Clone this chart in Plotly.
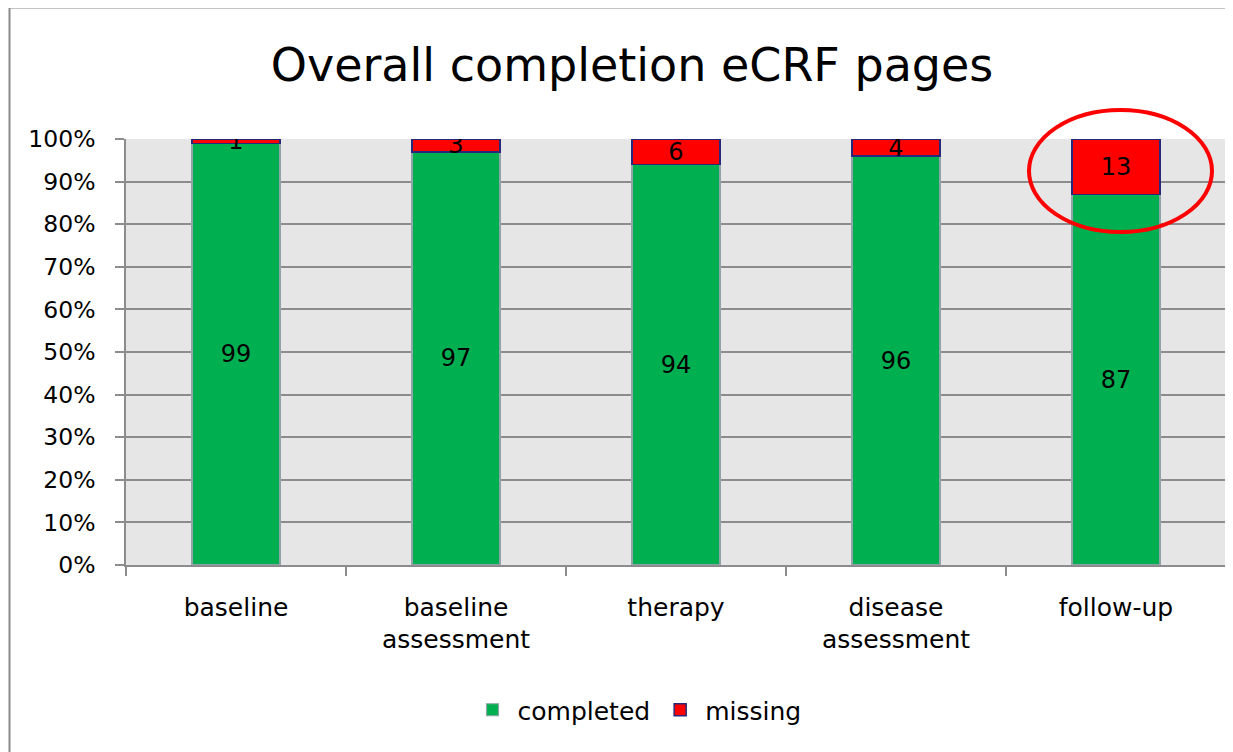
import plotly.graph_objects as go

categories = ["baseline", "baseline<br>assessment", "therapy", "disease<br>assessment", "follow-up"]
completed = [99, 97, 94, 96, 87]
missing = [1, 3, 6, 4, 13]
y_ticks = [0, 10, 20, 30, 40, 50, 60, 70, 80, 90, 100]

FONT = "DejaVu Sans"
OFF = 8  # browser body margin
W, H = 1233 - OFF, 752 - OFF
L, R, T, B = 126 - OFF, 7, 139 - OFF, 187
pw, ph = W - L - R, H - T - B


def px_x(v):
    return (v - OFF - L) / pw


def px_y(v):
    return (H - B - (v - OFF)) / ph


fig = go.Figure()
fig.add_trace(go.Bar(
    x=categories, y=[c / 100 for c in completed], name="completed",
    marker=dict(color="#00b050", line=dict(color="#8fa3a8", width=1.2)),
    text=[str(c) for c in completed], textposition="inside",
    insidetextanchor="middle", textangle=0, constraintext="none",
    textfont=dict(family=FONT, size=24, color="black"),
    width=0.4,
))
fig.add_trace(go.Bar(
    x=categories, y=[m / 100 for m in missing], name="missing",
    marker=dict(color="#ff0000", line=dict(color="#27287a", width=1.5)),
    text=[str(m) for m in missing], textposition="inside",
    insidetextanchor="middle", textangle=0, constraintext="none",
    textfont=dict(family=FONT, size=24, color="black"),
    width=0.4,
))

fig.update_layout(
    width=W, height=H,
    barmode="stack",
    paper_bgcolor="white",
    plot_bgcolor="#e6e6e6",
    margin=dict(l=L, r=R, t=T, b=B, autoexpand=False),
    title=dict(text="Overall completion eCRF pages", x=(632 - OFF) / W, xanchor="center",
               y=1 - (65 - OFF) / H, yanchor="middle",
               font=dict(family=FONT, size=46, color="black")),
    font=dict(family=FONT, size=24, color="black"),
    showlegend=True,
    legend=dict(orientation="h", x=px_x(637), xanchor="center", y=px_y(710), yanchor="middle",
                font=dict(family=FONT, size=25, color="black"), traceorder="normal",
                itemwidth=40, bgcolor="rgba(0,0,0,0)"),
    xaxis=dict(type="category", showgrid=False, ticks="outside", ticklen=9, tickwidth=1.5,
               tickcolor="#8c8c8c", tickson="boundaries", showline=True, linecolor="#8c8c8c",
               linewidth=1.5, ticklabelstandoff=19,
               tickfont=dict(family=FONT, size=25, color="black")),
    yaxis=dict(range=[0, 1], tickvals=[v / 100 for v in y_ticks],
               ticktext=[f"{v}%" for v in y_ticks], showgrid=True, gridcolor="#8c8c8c",
               gridwidth=1.5, ticks="outside", ticklen=9, tickwidth=1.5, tickcolor="#8c8c8c",
               showline=True, linecolor="#8c8c8c", linewidth=1.5, zeroline=False,
               ticklabelstandoff=15,
               tickfont=dict(family=FONT, size=23.5, color="black")),
    shapes=[
        dict(type="line", xref="paper", yref="paper",
             x0=px_x(9.5), x1=px_x(1300), y0=px_y(7.5), y1=px_y(7.5),
             line=dict(color="#8a8a8a", width=2), layer="below"),
        dict(type="line", xref="paper", yref="paper",
             x0=px_x(9.5), x1=px_x(9.5), y0=px_y(7.5), y1=px_y(900),
             line=dict(color="#8a8a8a", width=2), layer="below"),
        dict(type="circle", xref="paper", yref="paper",
             x0=px_x(1029), x1=px_x(1212), y0=px_y(232), y1=px_y(110),
             line=dict(color="#ff0000", width=4), fillcolor="rgba(0,0,0,0)", layer="above"),
    ],
)

fig.write_html("out.html", config={"displayModeBar": False})
